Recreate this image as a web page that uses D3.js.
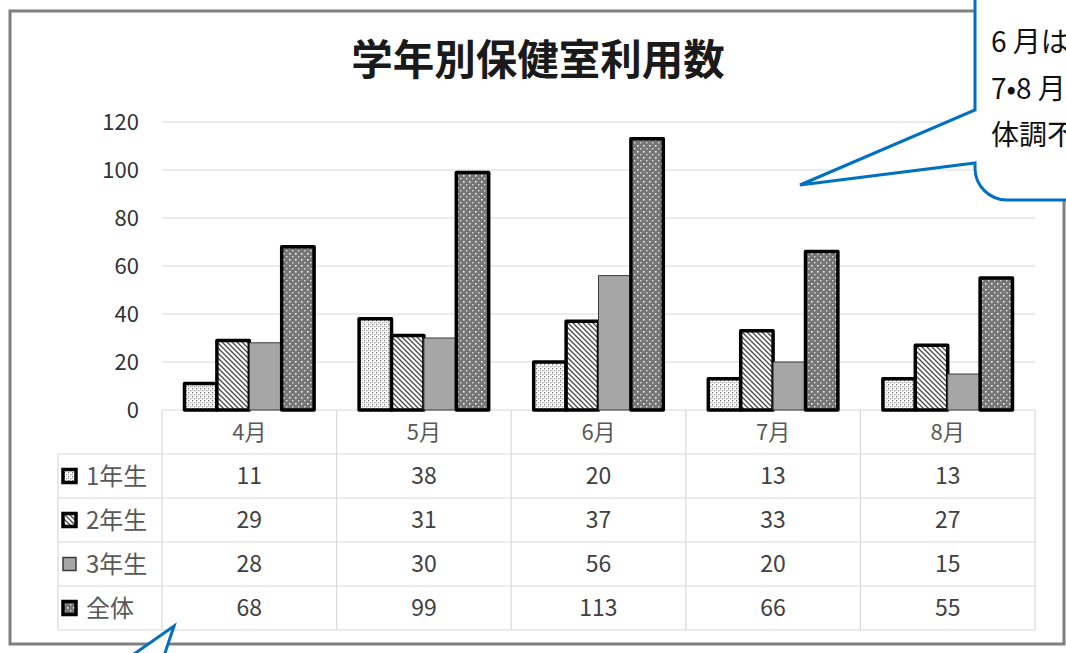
<!DOCTYPE html>
<html>
<head>
<meta charset="utf-8">
<script src="https://cdn.jsdelivr.net/npm/d3@7"></script>
<style>
  html, body { margin: 0; padding: 0; background: #fff; overflow: hidden; }
  svg { display: block; }
</style>
</head>
<body>
<svg id="chart" width="1066" height="653"></svg>
<script>
// Monthly nurse's-office visits by grade
const months = ["4月", "5月", "6月", "7月", "8月"];
const grades = ["1年生", "2年生", "3年生", "全体"];
const grade1 = [11, 38, 20, 13, 13];
const grade2 = [29, 31, 37, 33, 27];
const grade3 = [28, 30, 56, 20, 15];
const allGrades = [68, 99, 113, 66, 55];
const yTicks = [0, 20, 40, 60, 80, 100, 120];
const title = "学年別保健室利用数";
const noteLines = ["6 月は全", "7•8 月は", "体調不良"];

const seriesValues = [grade1, grade2, grade3, allGrades];

const svg = d3.select("#chart");
const FONT = "'Noto Sans CJK JP', 'Noto Sans', sans-serif";

// ---- patterns for the bar fills ----
const defs = svg.append("defs");

const pDots = defs.append("pattern").attr("id", "pat0")
  .attr("patternUnits", "userSpaceOnUse").attr("width", 4).attr("height", 4);
pDots.append("rect").attr("width", 4).attr("height", 4).attr("fill", "#fff");
pDots.append("rect").attr("x", 0).attr("y", 0).attr("width", 1.3).attr("height", 1.3).attr("fill", "#7a7a7a");
pDots.append("rect").attr("x", 2).attr("y", 2).attr("width", 1.3).attr("height", 1.3).attr("fill", "#9a9a9a");
pDots.append("rect").attr("x", 0).attr("y", 2).attr("width", 1).attr("height", 1).attr("fill", "#c4c4c4");

const pDiag = defs.append("pattern").attr("id", "pat1")
  .attr("patternUnits", "userSpaceOnUse").attr("width", 5).attr("height", 5);
pDiag.append("rect").attr("width", 5).attr("height", 5).attr("fill", "#fff");
pDiag.append("path").attr("d", "M-1,-1 L6,6 M-1,4 L1,6 M4,-1 L6,1")
  .attr("stroke", "#4a4a4a").attr("stroke-width", 1.3);

const pWhiteDots = defs.append("pattern").attr("id", "pat3")
  .attr("patternUnits", "userSpaceOnUse").attr("width", 6).attr("height", 6);
pWhiteDots.append("rect").attr("width", 6).attr("height", 6).attr("fill", "#767676");
pWhiteDots.append("rect").attr("x", 1).attr("y", 1).attr("width", 1.6).attr("height", 1.6).attr("fill", "#f2f2f2");
pWhiteDots.append("rect").attr("x", 4).attr("y", 4).attr("width", 1.4).attr("height", 1.4).attr("fill", "#e0e0e0");

const fills = ["url(#pat0)", "url(#pat1)", "#a6a6a6", "url(#pat3)"];
const strokeW = [3.5, 3.5, 1, 3.5];
const strokeC = ["#000", "#000", "#3a3a3a", "#000"];

// ---- outer frame ----
svg.append("rect").attr("x", 10).attr("y", 11).attr("width", 1054).attr("height", 633)
  .attr("fill", "#fff").attr("stroke", "#7f7f7f").attr("stroke-width", 3);

// ---- scales ----
const tableLeft = 162, tableRight = 1035;
const x0 = d3.scaleBand().domain(months).range([tableLeft, tableRight]).padding(0);
const x1 = d3.scaleBand().domain(grades).range([22.5, x0.bandwidth() - 22.5]).padding(0);
const y = d3.scaleLinear().domain([0, 120]).range([410, 122]);

// ---- gridlines ----
svg.append("g").selectAll("line").data(yTicks.slice(1)).join("line")
  .attr("x1", tableLeft).attr("x2", tableRight)
  .attr("y1", d => y(d)).attr("y2", d => y(d))
  .attr("stroke", "#d9d9d9").attr("stroke-width", 1.2);

// ---- y axis ----
const yAxis = d3.axisLeft(y).tickValues(yTicks).tickSize(0).tickPadding(0);
const yg = svg.append("g").attr("transform", "translate(139,0)").call(yAxis);
yg.select(".domain").remove();
yg.selectAll("text").attr("font-family", FONT).attr("font-size", 22)
  .attr("fill", "#333").attr("dy", "0.34em");

// ---- table grid ----
const rowH = 44;
const headTop = 410;
const rowTops = d3.range(grades.length).map(i => headTop + rowH * (i + 1));
const tableBottom = headTop + rowH * (grades.length + 1);
const labelLeft = 58;
const tg = svg.append("g").attr("stroke", "#d9d9d9").attr("stroke-width", 1.2);
tg.append("line").attr("x1", tableLeft).attr("x2", tableRight).attr("y1", headTop).attr("y2", headTop);
rowTops.concat([tableBottom]).forEach(yy => {
  tg.append("line").attr("x1", labelLeft).attr("x2", tableRight).attr("y1", yy).attr("y2", yy);
});
months.forEach(m => {
  tg.append("line").attr("x1", x0(m)).attr("x2", x0(m)).attr("y1", headTop).attr("y2", tableBottom);
});
tg.append("line").attr("x1", tableRight).attr("x2", tableRight).attr("y1", headTop).attr("y2", tableBottom);
tg.append("line").attr("x1", labelLeft).attr("x2", labelLeft).attr("y1", rowTops[0]).attr("y2", tableBottom);

// ---- bars ----
const barG = svg.append("g");
months.forEach((m, mi) => {
  grades.forEach((g, gi) => {
    const v = seriesValues[gi][mi];
    barG.append("rect")
      .attr("x", x0(m) + x1(g))
      .attr("y", y(v))
      .attr("width", x1.bandwidth())
      .attr("height", y(0) - y(v))
      .attr("fill", fills[gi])
      .attr("stroke", strokeC[gi])
      .attr("stroke-width", strokeW[gi])
      .attr("stroke-linejoin", "round");
  });
});

// ---- table text ----
const textG = svg.append("g").attr("font-family", FONT);
months.forEach(m => {
  textG.append("text").attr("x", x0(m) + x0.bandwidth() / 2).attr("y", headTop + rowH / 2)
    .attr("dy", "0.36em").attr("text-anchor", "middle")
    .attr("font-size", 22).attr("fill", "#595959").text(m);
});
grades.forEach((g, gi) => {
  const cy = rowTops[gi] + rowH / 2;
  textG.append("rect").attr("x", 63).attr("y", cy - 6.5).attr("width", 13).attr("height", 13)
    .attr("fill", fills[gi]).attr("stroke", strokeC[gi])
    .attr("stroke-width", gi === 2 ? 1.5 : 3.5);
  textG.append("text").attr("x", 86).attr("y", cy).attr("dy", "0.36em")
    .attr("font-size", 24).attr("fill", "#595959").text(g);
  months.forEach((m, mi) => {
    textG.append("text").attr("x", x0(m) + x0.bandwidth() / 2).attr("y", cy)
      .attr("dy", "0.36em").attr("text-anchor", "middle")
      .attr("font-size", 23).attr("fill", "#404040").text(seriesValues[gi][mi]);
  });
});

// ---- title ----
svg.append("text").attr("x", 538).attr("y", 60).attr("dy", "0.36em")
  .attr("text-anchor", "middle").attr("font-family", FONT).attr("font-weight", 700)
  .attr("font-size", 41.5).attr("fill", "#1a1a1a").text(title);

// ---- speech bubble, top right ----
const bubble = d3.path();
bubble.moveTo(975, 2);
bubble.lineTo(975, 110);
bubble.lineTo(800, 185);
bubble.lineTo(975, 163);
bubble.lineTo(975, 168);
bubble.arcTo(975, 200, 1007, 200, 32);
bubble.lineTo(1120, 200);
bubble.lineTo(1120, -30);
bubble.lineTo(1007, -30);
bubble.arcTo(975, -30, 975, 2, 32);
bubble.closePath();
svg.append("path").attr("d", bubble.toString())
  .attr("fill", "#fff").attr("stroke", "#0070c0").attr("stroke-width", 3)
  .attr("stroke-linejoin", "miter");

svg.append("g").selectAll("text").data(noteLines).join("text")
  .attr("x", 991).attr("y", (d, i) => 52 + i * 46.5)
  .attr("font-family", FONT).attr("font-size", 28).attr("fill", "#111")
  .text(d => d);

// ---- speech bubble pointer, bottom left ----
const tail = d3.path();
tail.moveTo(97, 680);
tail.lineTo(174, 626);
tail.lineTo(156, 680);
svg.append("path").attr("d", tail.toString())
  .attr("fill", "#fff").attr("stroke", "#0070c0").attr("stroke-width", 3);
</script>
</body>
</html>
